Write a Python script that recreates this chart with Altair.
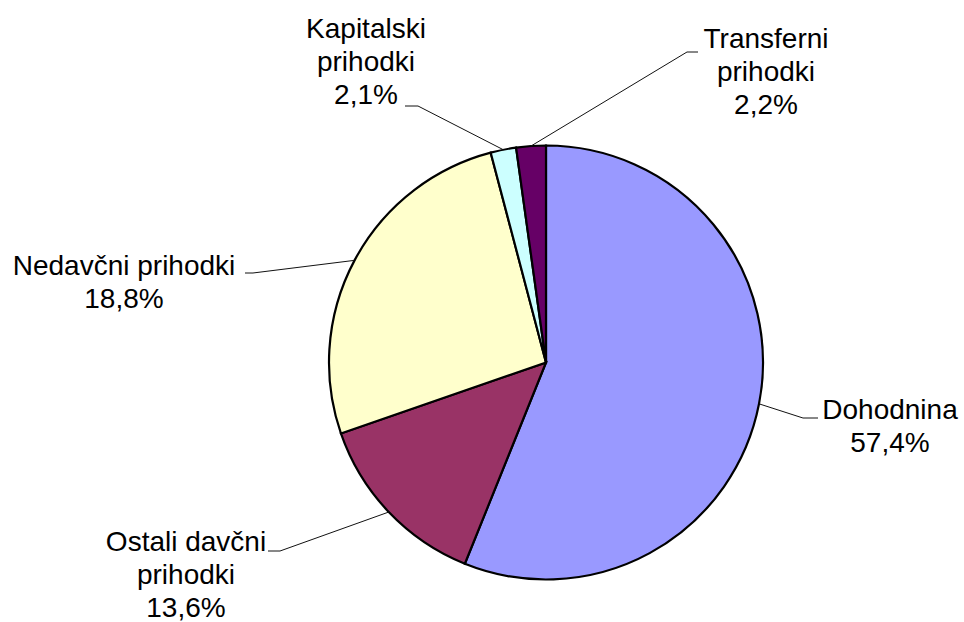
import altair as alt
import numpy as np
import pandas as pd

# ---- data ----
categories = ["Dohodnina", "Ostali davčni prihodki", "Nedavčni prihodki",
              "Kapitalski prihodki", "Transferni prihodki"]
slice_shares = [56.1, 13.6, 26.2, 1.9, 2.2]          # slice sizes as drawn
pct_labels = ["57,4%", "13,6%", "18,8%", "2,1%", "2,2%"]  # printed labels
name_lines = [["Dohodnina"], ["Ostali davčni", "prihodki"], ["Nedavčni prihodki"],
              ["Kapitalski", "prihodki"], ["Transferni", "prihodki"]]
colors = ["#9999FF", "#993366", "#FFFFCC", "#CCFFFF", "#660066"]

# ---- layout ----
W, H = 964, 622
CX, CY, R = 546, 362.5, 217
label_pos = [(890, 419), (186, 551), (124, 275), (366, 38), (766, 48)]
elbows = [(803, 418), (280, 551), (253, 273), (418, 106), (687, 52)]
tails = [(818, 418), (268, 551), (245, 273), (405, 106), (698, 52)]

pie_df = pd.DataFrame({"cat": categories, "value": slice_shares,
                       "order": list(range(len(categories)))})

# leader lines start at the mid-angle of each slice on the rim
vals = np.array(slice_shares, dtype=float)
cum = np.cumsum(vals) - vals / 2
ang = cum / vals.sum() * 2 * np.pi
edge_x = CX + R * np.sin(ang)
edge_y = CY - R * np.cos(ang)

seg_rows = []
for i in range(len(categories)):
    seg_rows.append({"x": edge_x[i], "y": edge_y[i], "x2": elbows[i][0], "y2": elbows[i][1]})
    seg_rows.append({"x": elbows[i][0], "y": elbows[i][1], "x2": tails[i][0], "y2": tails[i][1]})
seg_df = pd.DataFrame(seg_rows)

txt_df = pd.DataFrame({
    "x": [p[0] for p in label_pos],
    "y": [p[1] for p in label_pos],
    "label": ["\n".join(name_lines[i] + [pct_labels[i]]) for i in range(len(categories))],
})

xs = alt.Scale(domain=[0, W], range=[0, W])
ys = alt.Scale(domain=[0, H], range=[0, H])

pie = alt.Chart(pie_df).mark_arc(
    radius=R, stroke="#000000", strokeWidth=2.2, x=CX, y=CY
).encode(
    theta=alt.Theta("value:Q", stack=True),
    order=alt.Order("order:Q"),
    color=alt.Color("cat:N", scale=alt.Scale(domain=categories, range=colors), legend=None),
)

lines = alt.Chart(seg_df).mark_rule(color="#111111", strokeWidth=1).encode(
    x=alt.X("x:Q", scale=xs, axis=None),
    y=alt.Y("y:Q", scale=ys, axis=None),
    x2="x2:Q",
    y2="y2:Q",
)

texts = alt.Chart(txt_df).mark_text(
    font="Liberation Sans", fontSize=28, lineBreak="\n", lineHeight=33,
    align="center", baseline="alphabetic", color="#000000"
).encode(
    x=alt.X("x:Q", scale=xs, axis=None),
    y=alt.Y("y:Q", scale=ys, axis=None),
    text="label:N",
)

chart = alt.layer(pie, lines, texts).properties(
    width=W, height=H, padding=0, autosize=alt.AutoSizeParams(type="none")
).configure_view(stroke=None).resolve_scale(theta="independent")

chart.save("out.html", embed_options={"renderer": "svg", "actions": False})
